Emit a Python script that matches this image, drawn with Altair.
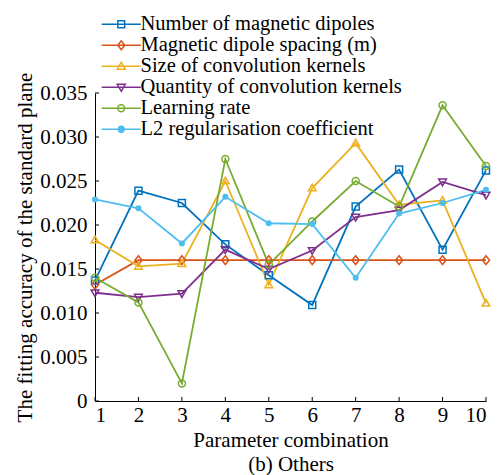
import altair as alt
import pandas as pd

combos = [1, 2, 3, 4, 5, 6, 7, 8, 9, 10]
series_names = [
    "Number of magnetic dipoles",
    "Magnetic dipole spacing (m)",
    "Size of convolution kernels",
    "Quantity of convolution kernels",
    "Learning rate",
    "L2 regularisation coefficient",
]
num_dipoles = [0.0137, 0.0239, 0.0225, 0.0178, 0.0143, 0.0109, 0.0221, 0.0263, 0.0172, 0.0262]
dipole_spacing = [0.0132, 0.0160, 0.0160, 0.0160, 0.0160, 0.0160, 0.0160, 0.0160, 0.0160, 0.0160]
kernel_size = [0.0183, 0.0153, 0.0156, 0.0250, 0.0132, 0.0242, 0.0293, 0.0223, 0.0228, 0.0111]
kernel_quantity = [0.0123, 0.0118, 0.0122, 0.0172, 0.0150, 0.0171, 0.0209, 0.0217, 0.0249, 0.0234]
learning_rate = [0.0140, 0.0112, 0.0020, 0.0275, 0.0155, 0.0204, 0.0250, 0.0221, 0.0336, 0.0267]
l2_coeff = [0.0229, 0.0219, 0.0179, 0.0232, 0.0202, 0.0201, 0.0140, 0.0213, 0.0225, 0.0240]

colors = ["#0072BD", "#D95319", "#EDB120", "#7E2F8E", "#77AC30", "#4DBEEE"]
x_ticks = [1, 2, 3, 4, 5, 6, 7, 8, 9, 10]
y_ticks = [0, 0.005, 0.010, 0.015, 0.020, 0.025, 0.030, 0.035]

all_values = [num_dipoles, dipole_spacing, kernel_size, kernel_quantity, learning_rate, l2_coeff]
rows = []
for name, vals in zip(series_names, all_values):
    for c, v in zip(combos, vals):
        rows.append({"combo": c, "value": v, "series": name})
df = pd.DataFrame(rows)

FONT = "Liberation Serif"
FS = 21
LFS = 20.5
W, H = 391, 308

# data markers (size 49 -> 1 unit = 3.5 px)
marker_paths = [
    "M-1,-1H1V1H-1Z",
    "M0,-1.25L1,0L0,1.25L-1,0Z",
    "M0,-1.1L1.1,0.8L-1.1,0.8Z",
    "M-1.1,-0.8L1.1,-0.8L0,1.1Z",
    "circle",
]

# legend symbols: line segment plus marker (size 64 -> 1 unit = 4 px)
leg_line = "M-4.9,0H4.9"
leg_marks = [
    "M-0.85,-0.85H0.85V0.85H-0.85Z",
    "M0,-1.1L0.85,0L0,1.1L-0.85,0Z",
    "M0,-1L1,0.75L-1,0.75Z",
    "M-1,-0.75L1,-0.75L0,1Z",
    "M-0.85,0A0.85,0.85 0 1,0 0.85,0A0.85,0.85 0 1,0 -0.85,0Z",
    "M-0.72,0A0.72,0.72 0 1,0 0.72,0A0.72,0.72 0 1,0 -0.72,0Z"
    "M-0.35,0A0.35,0.35 0 1,0 0.35,0A0.35,0.35 0 1,0 -0.35,0Z"
    "M-0.1,0H0.1",
]
legend_paths = [leg_line + m for m in leg_marks]

xscale = alt.Scale(domain=[1, 10], nice=False, zero=False)
yscale = alt.Scale(domain=[0, 0.035], nice=False, zero=False)
cscale = alt.Scale(domain=series_names, range=colors)

x_axis = alt.Axis(
    values=x_ticks, title=["Parameter combination", "(b) Others"], ticks=False, tickSize=0,
    labelPadding=3, titlePadding=4, titleLineHeight=24, grid=False,
    domainColor="black", labelColor="black", titleColor="black",
)
y_axis = alt.Axis(
    values=y_ticks, title="The fitting accuracy of the standard plane", ticks=False, tickSize=0,
    labelPadding=8, titlePadding=4, grid=False,
    labelExpr="datum.value == 0 ? '0' : format(datum.value, '.3f')",
    domainColor="black", labelColor="black", titleColor="black",
)

legend = alt.Legend(
    orient="none", legendX=8, legendY=-79, title=None,
    labelFont=FONT, labelFontSize=LFS, labelColor="black", labelLimit=0,
    symbolSize=64, symbolOffset=8, labelOffset=9, rowPadding=0, padding=0,
    symbolStrokeWidth=1.5, symbolFillColor="transparent",
)

base = alt.Chart(df)

lines = base.mark_line(strokeWidth=1.8).encode(
    x=alt.X("combo:Q", scale=xscale, axis=x_axis),
    y=alt.Y("value:Q", scale=yscale, axis=y_axis),
    color=alt.Color("series:N", scale=cscale),
    detail="series:N",
)

marker_layers = []
for name, path in zip(series_names[:5], marker_paths):
    marker_layers.append(
        base.transform_filter(alt.datum.series == name)
        .mark_point(filled=False, strokeWidth=1.5, size=49, opacity=1, shape=path)
        .encode(
            x=alt.X("combo:Q", scale=xscale),
            y=alt.Y("value:Q", scale=yscale),
            color=alt.Color("series:N", scale=cscale),
        )
    )

# filled dots of the L2 series (fixed colour so the legend stays unfilled)
dots = base.transform_filter(
    alt.datum.series == series_names[5]
).mark_circle(size=36, opacity=1, color=colors[5]).encode(
    x=alt.X("combo:Q", scale=xscale),
    y=alt.Y("value:Q", scale=yscale),
)

# layer with no rows that only carries the legend
legend_layer = base.transform_filter("false").mark_point(
    filled=False, strokeWidth=1.5, size=64, opacity=1
).encode(
    x=alt.X("combo:Q", scale=xscale),
    y=alt.Y("value:Q", scale=yscale),
    color=alt.Color("series:N", scale=cscale, legend=legend),
    shape=alt.Shape("series:N", scale=alt.Scale(domain=series_names, range=legend_paths), legend=legend),
)

xt = alt.Chart(pd.DataFrame({"t": x_ticks})).mark_rule(color="black", strokeWidth=1).encode(
    x=alt.X("t:Q", scale=xscale),
    y=alt.value(H),
    y2=alt.value(H - 4),
)
yt = alt.Chart(pd.DataFrame({"t": y_ticks})).mark_rule(color="black", strokeWidth=1).encode(
    y=alt.Y("t:Q", scale=yscale),
    x=alt.value(0),
    x2=alt.value(4),
)

chart = alt.layer(lines, xt, yt, *marker_layers, dots, legend_layer).properties(
    width=W, height=H,
    padding={"left": 14, "top": 14, "right": 5, "bottom": 5},
).configure_view(stroke=None).configure_axis(
    labelFont=FONT, titleFont=FONT, labelFontSize=FS, titleFontSize=FS,
    titleFontWeight="normal", domainWidth=1,
).configure_legend(labelFont=FONT)

chart.save("out.html", embed_options={"renderer": "svg", "actions": False})
